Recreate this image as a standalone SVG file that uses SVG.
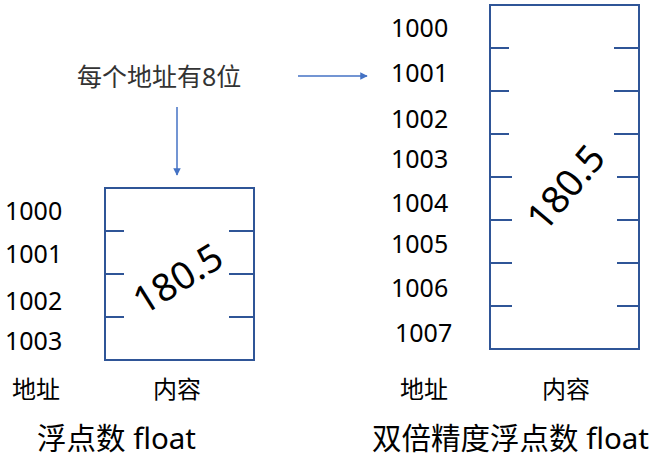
<svg xmlns="http://www.w3.org/2000/svg" width="659" height="467" viewBox="0 0 659 467">
<style>
text{font-family:"Noto Sans","Noto Sans CJK SC",sans-serif;fill:#000}
.num{font-size:25px}
.lbl{font-size:24px}
.cap{font-size:29.5px}
.val{font-size:38px}
.box{fill:none;stroke:#2F5597;stroke-width:2}
.tick{stroke:#2F5597;stroke-width:2}
.arr{stroke:#4472C4;stroke-width:1.5;fill:none;marker-end:url(#ah)}
</style>
<defs>
<marker id="ah" viewBox="0 0 10 10" refX="9" refY="5" markerWidth="5" markerHeight="5" orient="auto"><path d="M0,0L10,5L0,10z" fill="#4472C4"/></marker>
</defs>
<g id="note"><text x="77" y="86" style="font-size:25px;fill:#333">每个地址有8位</text></g>
<g id="connectors">
<line class="arr" x1="298" y1="76" x2="367" y2="76"/>
<line class="arr" x1="177" y1="107" x2="177" y2="175"/>
</g>
<g id="float">
<rect class="box" x="105" y="188" width="149" height="172"/>
<path class="tick" d="M105,231H124M105,274H124M105,317H124M229,231H254M229,274H254M229,317H254"/>
<text class="num" x="5" y="220">1000</text>
<text class="num" x="5" y="263">1001</text>
<text class="num" x="5" y="310">1002</text>
<text class="num" x="5" y="350">1003</text>
<text class="val" transform="translate(185,290) rotate(-32)" text-anchor="middle">180.5</text>
<text class="lbl" x="12" y="398">地址</text>
<text class="lbl" x="153" y="398">内容</text>
<text class="cap" x="37" y="449">浮点数 float</text>
</g>
<g id="double">
<rect class="box" x="490" y="5" width="149" height="344"/>
<path class="tick" d="M490,48H509M490,91H509M490,134H509M490,177H512M490,220H512M490,263H512M490,306H512M614,48H639M614,91H639M614,134H639M617,177H639M617,220H639M617,263H639M617,306H639"/>
<text class="num" x="391" y="37">1000</text>
<text class="num" x="391" y="82">1001</text>
<text class="num" x="391" y="128">1002</text>
<text class="num" x="391" y="168">1003</text>
<text class="num" x="391" y="212">1004</text>
<text class="num" x="391" y="253">1005</text>
<text class="num" x="391" y="297">1006</text>
<text class="num" x="395" y="342">1007</text>
<text class="val" transform="translate(576,196) rotate(-50)" text-anchor="middle">180.5</text>
<text class="lbl" x="400" y="398">地址</text>
<text class="lbl" x="542" y="398">内容</text>
<text class="cap" x="372" y="449">双倍精度浮点数 float</text>
</g>
</svg>
